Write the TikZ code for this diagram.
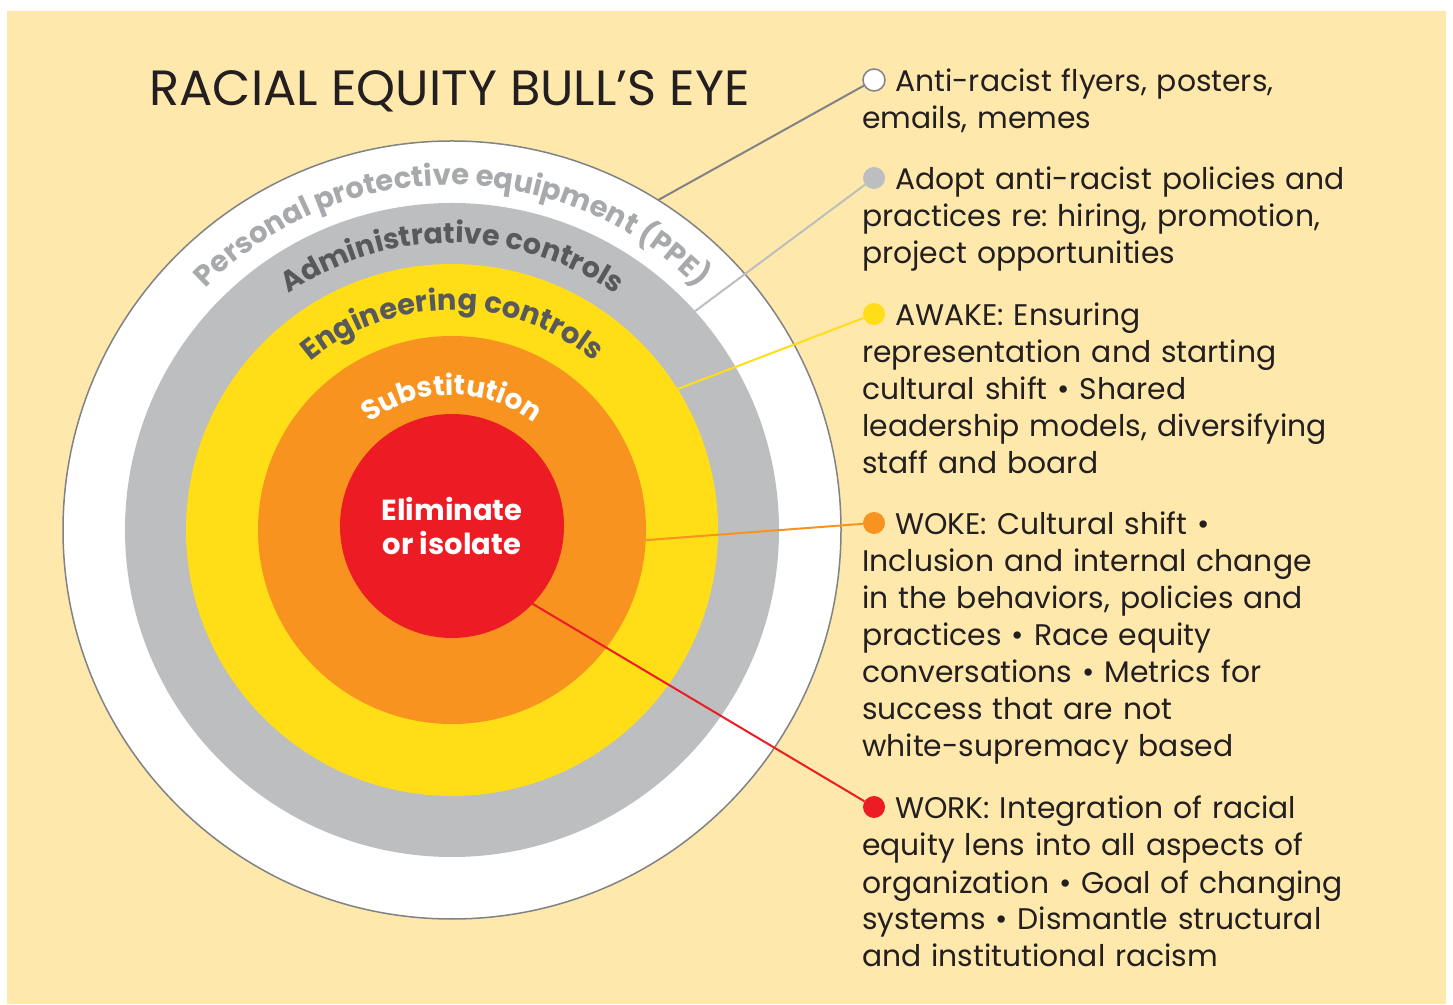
\documentclass[tikz,border=0pt]{standalone}
\usepackage{fontspec}
\setmainfont{Poppins}
\usetikzlibrary{decorations.text}
\frenchspacing
\definecolor{bgyellow}{HTML}{FEE8AB}
\definecolor{ringgray}{HTML}{BCBEC0}
\definecolor{ringyellow}{HTML}{FFDD17}
\definecolor{ringorange}{HTML}{F7931E}
\definecolor{ringred}{HTML}{ED1C24}
\definecolor{labelgray}{HTML}{A7A9AC}
\definecolor{labeldark}{HTML}{58595B}
\definecolor{edgegray}{HTML}{808285}
\definecolor{inkblack}{HTML}{231F20}
\newcommand\ringtext[4]{\path[decorate, decoration={text along path, text align=center,
    text={|\fontsize{#2}{#2}\selectfont\bfseries\color{#3}|#4}}]
    (ppe.center) ++(180:#1) arc[start angle=180, end angle=0, radius=#1];}

\begin{document}
\begin{tikzpicture}[x=1pt, y=1pt]
      \tikzstyle{ring}   = [circle, inner sep=0, outer sep=0]
      \tikzstyle{bullet} = [circle, inner sep=0, minimum size=22]
      \tikzstyle{desc}   = [anchor=base west, inner sep=0, text width=580, align=left,
                            text=inkblack, font=\fontsize{29.8}{37}\selectfont]
      \tikzstyle{link}   = [line width=2]

      \useasboundingbox (0,0) rectangle (1453,1004);
      \fill[bgyellow] (7,0) rectangle (1446,993);

      \node[anchor=base west, inkblack, font=\fontsize{49.5}{50}\selectfont] (title) at (146,898) {RACIAL EQUITY BULL’S EYE};

      % the bull's eye
      \node[ring, minimum size=778, fill=white, draw=edgegray, line width=1.5] (ppe) at (452,474) {};
      \node[ring, minimum size=654, fill=ringgray]   (adm) at (ppe.center) {};
      \node[ring, minimum size=532, fill=ringyellow] (eng) at (ppe.center) {};
      \node[ring, minimum size=388, fill=ringorange] (sub) at (ppe.center) {};
      \node[ring, minimum size=224, fill=ringred, text=white, align=center,
            font=\fontsize{29}{34}\selectfont\bfseries] (eli) at (452,478) {Eliminate\\or isolate};

      \ringtext{345}{29}{labelgray}{Personal protective equipment (PPE)}
      \ringtext{287}{28.5}{labeldark}{Administrative controls}
      \ringtext{220}{29}{labeldark}{Engineering controls}
      \ringtext{135}{28}{white}{Substitution}

      % legend
      \node[bullet, fill=white, draw=edgegray, line width=1.5] (b1) at (874,924) {};
      \node[bullet, fill=ringgray]   (b2) at (874,826) {};
      \node[bullet, fill=ringyellow] (b3) at (874,690) {};
      \node[bullet, fill=ringorange] (b4) at (874,481) {};
      \node[bullet, fill=ringred]    (b5) at (874,197) {};

      \node[desc] (t1) at (862,912) {\hspace*{33pt}Anti-racist flyers, posters,\\emails, memes};
      \node[desc] (t2) at (862,814) {\hspace*{33pt}Adopt anti-racist policies and\\practices re: hiring, promotion,\\project opportunities};
      \node[desc] (t3) at (862,678) {\hspace*{33pt}AWAKE: Ensuring\\representation and starting\\cultural shift • Shared\\leadership models, diversifying\\staff and board};
      \node[desc] (t4) at (862,469) {\hspace*{33pt}WOKE: Cultural shift •\\Inclusion and internal change\\in the behaviors, policies and\\practices • Race equity\\conversations • Metrics for\\success that are not\\white-supremacy based};
      \node[desc] (t5) at (862,185) {\hspace*{33pt}WORK: Integration of racial\\equity lens into all aspects of\\organization • Goal of changing\\systems • Dismantle structural\\and institutional racism};

      \draw[link, edgegray]   (ppe.58) -- (b1);
      \draw[link, ringgray]   (adm.42) -- (b2);
      \draw[link, ringyellow] (eng.32) -- (b3);
      \draw[link, ringorange] (sub.-3) -- (b4);
      \draw[link, ringred]    (eli.-44) -- (b5);
    \end{tikzpicture}
\end{document}
